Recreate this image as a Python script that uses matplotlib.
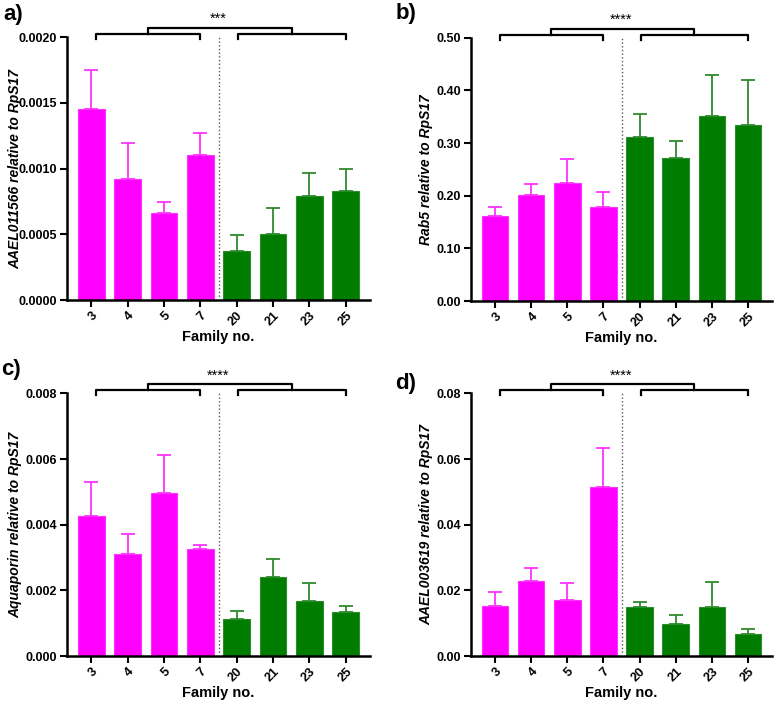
import numpy as np
import matplotlib
matplotlib.use('Agg')
import matplotlib.pyplot as plt
import matplotlib.transforms as mtransforms
from matplotlib.ticker import FormatStrFormatter

plt.rcParams['font.family'] = ['Liberation Sans', 'DejaVu Sans']

families = ['3', '4', '5', '7', '20', '21', '23', '25']
bar_colors = ['#ff00ff'] * 4 + ['#007d00'] * 4
err_colors = ['#ff33ff'] * 4 + ['#2e8b2e'] * 4

# means and upper SEM tops
a_mean = [0.001455, 0.000918, 0.000659, 0.001100, 0.000373, 0.000502, 0.000793, 0.000826]
a_top = [0.001749, 0.001196, 0.000748, 0.001272, 0.000494, 0.000697, 0.000963, 0.000994]
b_mean = [0.162, 0.201, 0.224, 0.178, 0.311, 0.271, 0.352, 0.335]
b_top = [0.179, 0.223, 0.269, 0.207, 0.356, 0.303, 0.430, 0.419]
c_mean = [0.00427, 0.00312, 0.00495, 0.00327, 0.00113, 0.00242, 0.00169, 0.00135]
c_top = [0.00531, 0.00371, 0.00611, 0.00337, 0.00137, 0.00294, 0.00222, 0.00153]
d_mean = [0.0151, 0.0227, 0.0172, 0.0515, 0.0150, 0.0097, 0.0149, 0.0067]
d_top = [0.0195, 0.0269, 0.0222, 0.0633, 0.0166, 0.0125, 0.0224, 0.0082]

panels = [
    ('a)', a_mean, a_top, 0.002, 0.0005, '%.4f', 'AAEL011566 relative to RpS17', '***'),
    ('b)', b_mean, b_top, 0.5, 0.1, '%.2f', 'Rab5 relative to RpS17', '****'),
    ('c)', c_mean, c_top, 0.008, 0.002, '%.3f', 'Aquaporin relative to RpS17', '****'),
    ('d)', d_mean, d_top, 0.08, 0.02, '%.2f', 'AAEL003619 relative to RpS17', '****'),
]
positions = [
    [0.0861, 0.5726, 0.3895, 0.3746],
    [0.6054, 0.5712, 0.3869, 0.3750],
    [0.0861, 0.0655, 0.3895, 0.3742],
    [0.6054, 0.0655, 0.3869, 0.3742],
]
label_xy = [(0.004, 0.980), (0.508, 0.981), (0.002, 0.473), (0.508, 0.454)]
ylabel_x = [-0.148, -0.126, -0.148, -0.126]

fig = plt.figure(figsize=(7.78, 7.02), dpi=100)
x = np.arange(len(families))

for i, (lab, mean, top, ymax, step, fmt, ylab, stars) in enumerate(panels):
    ax = fig.add_axes(positions[i])
    mean = np.array(mean)
    top = np.array(top)
    ax.bar(x, mean, width=0.73, color=bar_colors, edgecolor=err_colors, linewidth=0.8, zorder=2)
    for xi, m, t, ec in zip(x, mean, top, err_colors):
        ax.errorbar(xi, m, yerr=[[0], [t - m]], fmt='none', ecolor=ec,
                    elinewidth=1.3, capsize=5, capthick=1.3, zorder=1)
    ax.set_xlim(-0.67, 7.67)
    ax.set_ylim(0, ymax)
    ax.set_yticks(np.arange(0, ymax + step / 2, step))
    ax.yaxis.set_major_formatter(FormatStrFormatter(fmt))
    ax.set_xticks(x)
    ax.set_xticklabels(families, rotation=45, ha='right', rotation_mode='anchor')
    for t in ax.get_xticklabels():
        t.set_fontweight('bold')
        t.set_fontsize(9.2)
    for t in ax.get_yticklabels():
        t.set_fontweight('bold')
        t.set_fontsize(9)
    ax.spines['top'].set_visible(False)
    ax.spines['right'].set_visible(False)
    ax.spines['left'].set_linewidth(1.8)
    ax.spines['bottom'].set_linewidth(1.8)
    ax.tick_params(axis='both', width=1.5, length=5, pad=2)
    ax.set_ylabel(ylab, fontsize=10, fontweight='bold', fontstyle='italic')
    ax.yaxis.set_label_coords(ylabel_x[i], 0.5)
    ax.set_xlabel('Family no.', fontsize=10.5, fontweight='bold')
    ax.xaxis.set_label_coords(0.5, -0.115)

    # dotted separator between groups
    ax.plot([3.5, 3.5], [0, ymax], ls=':', color='#555555', lw=1, zorder=3)

    # significance brackets
    tr = mtransforms.blended_transform_factory(ax.transData, ax.transAxes)
    kw = dict(color='black', lw=1.6, transform=tr, clip_on=False)
    ax.plot([0.13, 0.13, 3.0, 3.0], [0.992, 1.011, 1.011, 0.992], **kw)
    ax.plot([4.05, 4.05, 7.0, 7.0], [0.992, 1.011, 1.011, 0.992], **kw)
    ax.plot([1.56, 1.56, 5.52, 5.52], [1.011, 1.034, 1.034, 1.011], **kw)
    ax.text(3.5, 1.042, stars, transform=tr, ha='center', va='bottom', fontsize=10.5)

    fig.text(label_xy[i][0], label_xy[i][1], lab, fontsize=16, fontweight='bold',
             ha='left', va='center')

fig.savefig('out.png', dpi=100)
